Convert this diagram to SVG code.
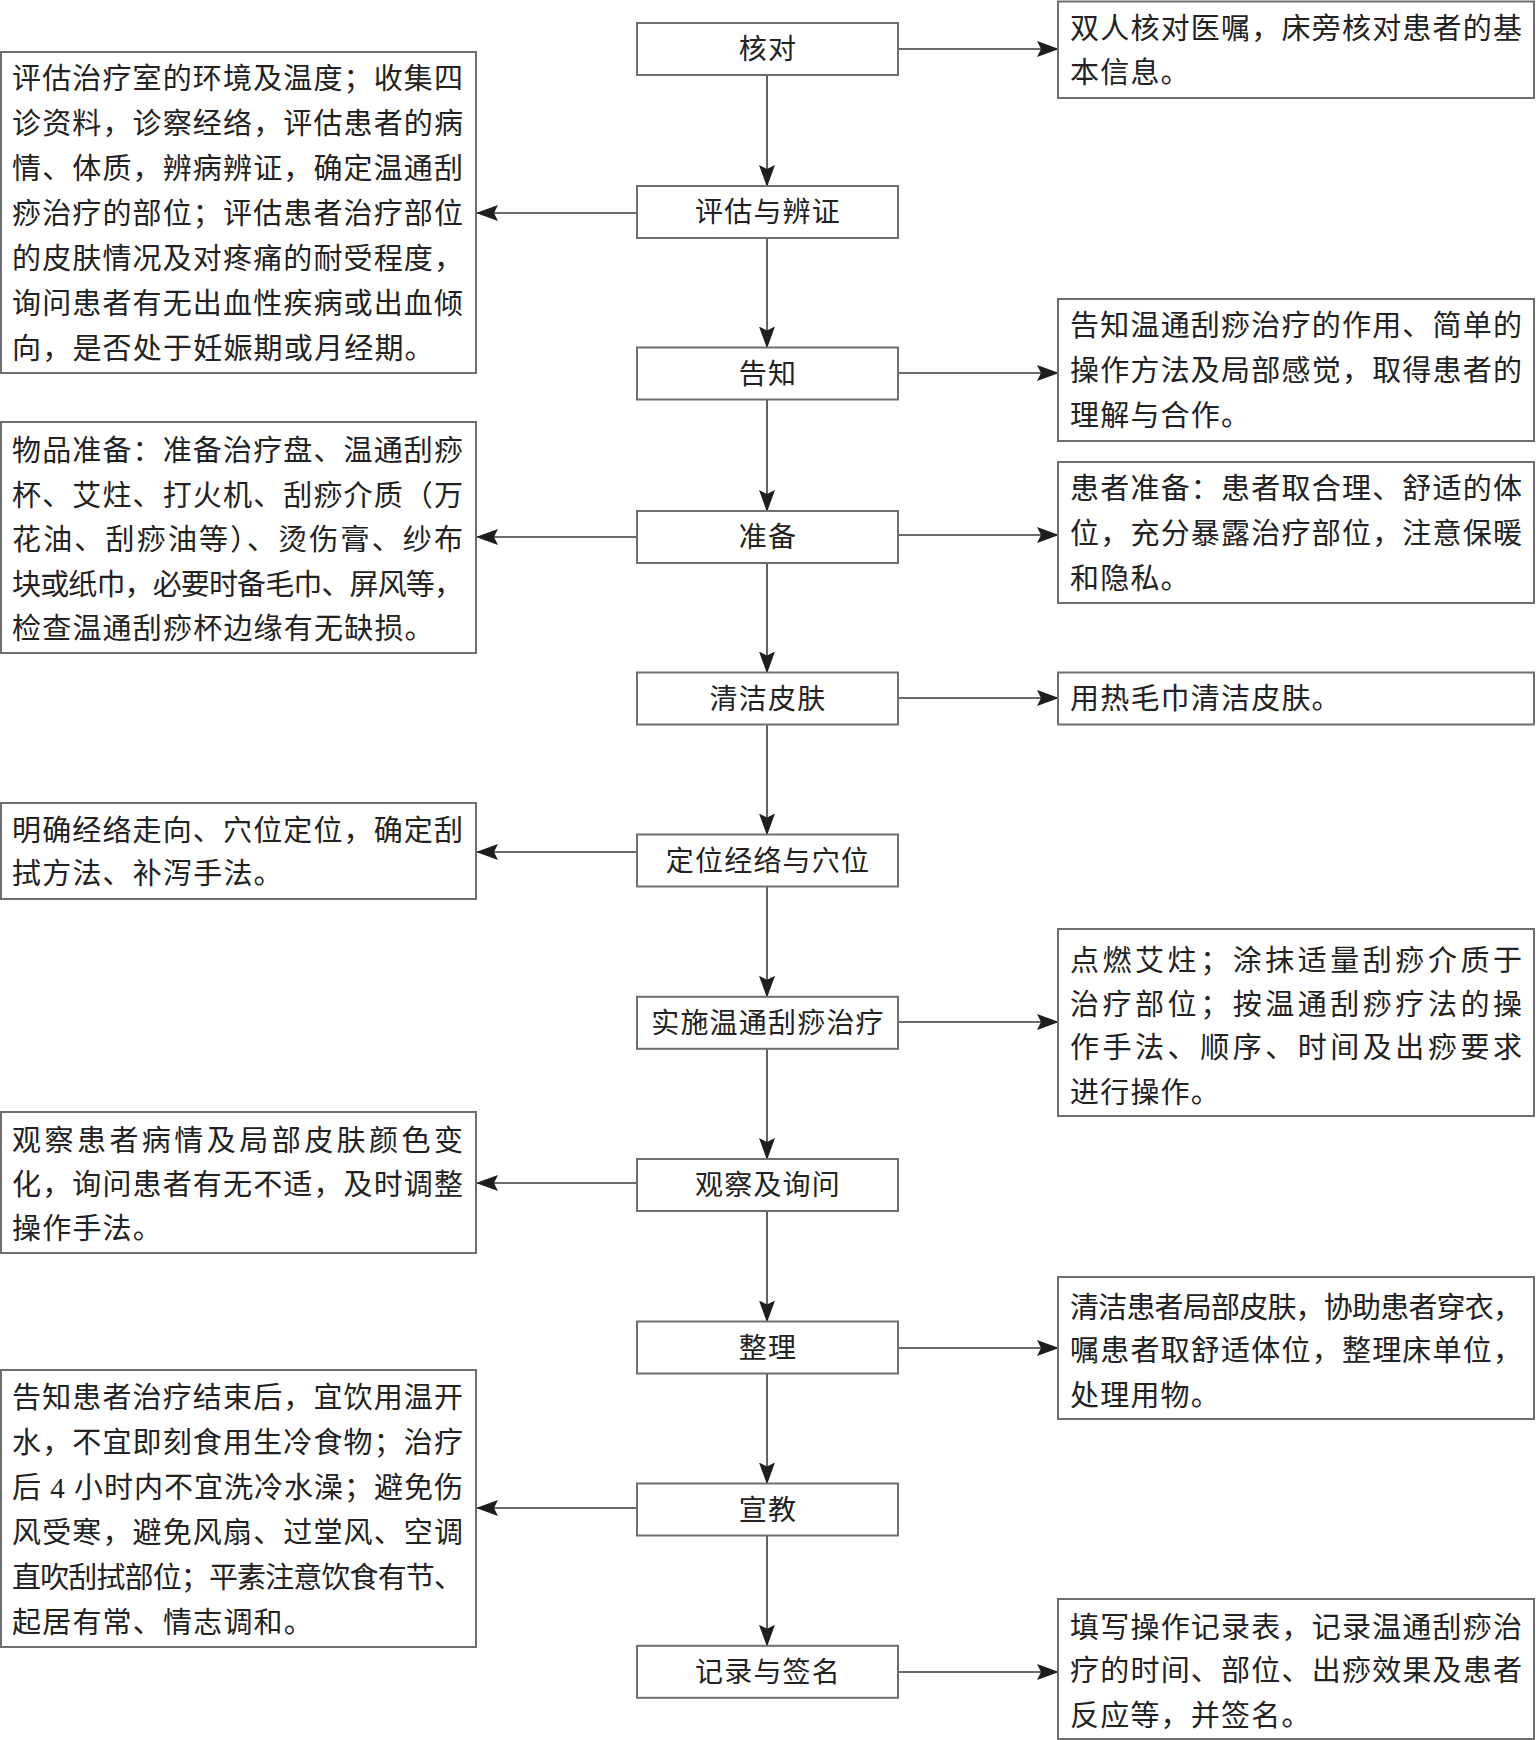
<svg xmlns="http://www.w3.org/2000/svg" width="1536" height="1740" viewBox="0 0 1536 1740">
<style>
  .bg { fill: #ffffff; }
  .box { fill: #ffffff; stroke: #6e6e6e; stroke-width: 2; }
  .lbl { font-family: "Noto Sans CJK SC", "Liberation Serif", sans-serif; font-size: 28px; fill: #222222; text-anchor: middle; letter-spacing: 1.2px; }
  .txt { font-family: "Liberation Serif", "Noto Sans CJK SC", serif; font-size: 29px; fill: #222222; }
  .last { letter-spacing: 1.2px; }
  .con { stroke: #3a3a3a; stroke-width: 1.6; fill: none; }
</style>
<defs>
  <marker id="ah" viewBox="0 0 22 16" refX="21" refY="8" markerWidth="22" markerHeight="16" markerUnits="userSpaceOnUse" orient="auto">
    <path d="M0,0 L22,8 L0,16 L4,8 Z" fill="#1e1e1e"/>
  </marker>
</defs>
<rect class="bg" x="0" y="0" width="1536" height="1740"/>

<g id="connectors">
  <line class="con" x1="767" y1="75" x2="767" y2="186" marker-end="url(#ah)"/>
  <line class="con" x1="767" y1="238" x2="767" y2="347.5" marker-end="url(#ah)"/>
  <line class="con" x1="767" y1="399.5" x2="767" y2="511" marker-end="url(#ah)"/>
  <line class="con" x1="767" y1="563" x2="767" y2="672.5" marker-end="url(#ah)"/>
  <line class="con" x1="767" y1="724.5" x2="767" y2="834.5" marker-end="url(#ah)"/>
  <line class="con" x1="767" y1="886.5" x2="767" y2="996.8" marker-end="url(#ah)"/>
  <line class="con" x1="767" y1="1048.8" x2="767" y2="1159" marker-end="url(#ah)"/>
  <line class="con" x1="767" y1="1211" x2="767" y2="1321.5" marker-end="url(#ah)"/>
  <line class="con" x1="767" y1="1373.5" x2="767" y2="1483.5" marker-end="url(#ah)"/>
  <line class="con" x1="767" y1="1535.5" x2="767" y2="1645.8" marker-end="url(#ah)"/>

  <line class="con" x1="898" y1="49" x2="1058" y2="49" marker-end="url(#ah)"/>
  <line class="con" x1="898" y1="373" x2="1058" y2="373" marker-end="url(#ah)"/>
  <line class="con" x1="898" y1="535" x2="1058" y2="535" marker-end="url(#ah)"/>
  <line class="con" x1="898" y1="698" x2="1058" y2="698" marker-end="url(#ah)"/>
  <line class="con" x1="898" y1="1022" x2="1058" y2="1022" marker-end="url(#ah)"/>
  <line class="con" x1="898" y1="1348" x2="1058" y2="1348" marker-end="url(#ah)"/>
  <line class="con" x1="898" y1="1672" x2="1058" y2="1672" marker-end="url(#ah)"/>

  <line class="con" x1="637" y1="213" x2="477" y2="213" marker-end="url(#ah)"/>
  <line class="con" x1="637" y1="537" x2="477" y2="537" marker-end="url(#ah)"/>
  <line class="con" x1="637" y1="852" x2="477" y2="852" marker-end="url(#ah)"/>
  <line class="con" x1="637" y1="1183" x2="477" y2="1183" marker-end="url(#ah)"/>
  <line class="con" x1="637" y1="1508" x2="477" y2="1508" marker-end="url(#ah)"/>
</g>

<g id="n1"><rect class="box" x="637" y="23" width="261" height="52"/><text class="lbl" x="768" y="59">核对</text></g>
<g id="n2"><rect class="box" x="637" y="186" width="261" height="52"/><text class="lbl" x="768" y="222">评估与辨证</text></g>
<g id="n3"><rect class="box" x="637" y="347.5" width="261" height="52"/><text class="lbl" x="768" y="383.5">告知</text></g>
<g id="n4"><rect class="box" x="637" y="511" width="261" height="52"/><text class="lbl" x="768" y="547">准备</text></g>
<g id="n5"><rect class="box" x="637" y="672.5" width="261" height="52"/><text class="lbl" x="768" y="708.5">清洁皮肤</text></g>
<g id="n6"><rect class="box" x="637" y="834.5" width="261" height="52"/><text class="lbl" x="768" y="870.5">定位经络与穴位</text></g>
<g id="n7"><rect class="box" x="637" y="996.8" width="261" height="52"/><text class="lbl" x="768" y="1032.5">实施温通刮痧治疗</text></g>
<g id="n8"><rect class="box" x="637" y="1159" width="261" height="52"/><text class="lbl" x="768" y="1194.5">观察及询问</text></g>
<g id="n9"><rect class="box" x="637" y="1321.5" width="261" height="52"/><text class="lbl" x="768" y="1358">整理</text></g>
<g id="n10"><rect class="box" x="637" y="1483.5" width="261" height="52"/><text class="lbl" x="768" y="1519.5">宣教</text></g>
<g id="n11"><rect class="box" x="637" y="1645.8" width="261" height="52"/><text class="lbl" x="768" y="1681.5">记录与签名</text></g>

<g id="l1">
  <rect class="box" x="1" y="52" width="475" height="321"/>
  <text class="txt" x="12" y="88.5" textLength="451" lengthAdjust="spacing">评估治疗室的环境及温度；收集四</text>
  <text class="txt" x="12" y="133.5" textLength="451" lengthAdjust="spacing">诊资料，诊察经络，评估患者的病</text>
  <text class="txt" x="12" y="178.5" textLength="451" lengthAdjust="spacing">情、体质，辨病辨证，确定温通刮</text>
  <text class="txt" x="12" y="223.5" textLength="451" lengthAdjust="spacing">痧治疗的部位；评估患者治疗部位</text>
  <text class="txt" x="12" y="268.5" textLength="451" lengthAdjust="spacing">的皮肤情况及对疼痛的耐受程度，</text>
  <text class="txt" x="12" y="313.5" textLength="451" lengthAdjust="spacing">询问患者有无出血性疾病或出血倾</text>
  <text class="txt last" x="12" y="358.5">向，是否处于妊娠期或月经期。</text>
</g>
<g id="l2">
  <rect class="box" x="1" y="422" width="475" height="231"/>
  <text class="txt" x="12" y="460.5" textLength="451" lengthAdjust="spacing">物品准备：准备治疗盘、温通刮痧</text>
  <text class="txt" x="12" y="505.5" textLength="451" lengthAdjust="spacing">杯、艾炷、打火机、刮痧介质（万</text>
  <text class="txt" x="12" y="550" textLength="451" lengthAdjust="spacing">花油、刮痧油等）、烫伤膏、纱布</text>
  <text class="txt" x="12" y="594.5" textLength="451" lengthAdjust="spacing">块或纸巾，必要时备毛巾、屏风等，</text>
  <text class="txt last" x="12" y="638.5">检查温通刮痧杯边缘有无缺损。</text>
</g>
<g id="l3">
  <rect class="box" x="1" y="803" width="475" height="96"/>
  <text class="txt" x="12" y="840.5" textLength="451" lengthAdjust="spacing">明确经络走向、穴位定位，确定刮</text>
  <text class="txt last" x="12" y="883.5">拭方法、补泻手法。</text>
</g>
<g id="l4">
  <rect class="box" x="1" y="1112" width="475" height="141"/>
  <text class="txt" x="12" y="1150.5" textLength="451" lengthAdjust="spacing">观察患者病情及局部皮肤颜色变</text>
  <text class="txt" x="12" y="1194.5" textLength="451" lengthAdjust="spacing">化，询问患者有无不适，及时调整</text>
  <text class="txt last" x="12" y="1238.5">操作手法。</text>
</g>
<g id="l5">
  <rect class="box" x="1" y="1370" width="475" height="277"/>
  <text class="txt" x="12" y="1407.5" textLength="451" lengthAdjust="spacing">告知患者治疗结束后，宜饮用温开</text>
  <text class="txt" x="12" y="1452.5" textLength="451" lengthAdjust="spacing">水，不宜即刻食用生冷食物；治疗</text>
  <text class="txt" x="12" y="1497.5" textLength="451" lengthAdjust="spacing">后 4 小时内不宜洗冷水澡；避免伤</text>
  <text class="txt" x="12" y="1542.5" textLength="451" lengthAdjust="spacing">风受寒，避免风扇、过堂风、空调</text>
  <text class="txt" x="12" y="1587.5" textLength="451" lengthAdjust="spacing">直吹刮拭部位；平素注意饮食有节、</text>
  <text class="txt last" x="12" y="1632.5">起居有常、情志调和。</text>
</g>

<g id="r1">
  <rect class="box" x="1058" y="1.5" width="476" height="96.5"/>
  <text class="txt" x="1070" y="38.5" textLength="452" lengthAdjust="spacing">双人核对医嘱，床旁核对患者的基</text>
  <text class="txt last" x="1070" y="82.5">本信息。</text>
</g>
<g id="r2">
  <rect class="box" x="1058" y="299" width="476" height="142"/>
  <text class="txt" x="1070" y="335.5" textLength="452" lengthAdjust="spacing">告知温通刮痧治疗的作用、简单的</text>
  <text class="txt" x="1070" y="380.5" textLength="452" lengthAdjust="spacing">操作方法及局部感觉，取得患者的</text>
  <text class="txt last" x="1070" y="425.5">理解与合作。</text>
</g>
<g id="r3">
  <rect class="box" x="1058" y="462" width="476" height="141"/>
  <text class="txt" x="1070" y="498.5" textLength="452" lengthAdjust="spacing">患者准备：患者取合理、舒适的体</text>
  <text class="txt" x="1070" y="543.5" textLength="452" lengthAdjust="spacing">位，充分暴露治疗部位，注意保暖</text>
  <text class="txt last" x="1070" y="588.5">和隐私。</text>
</g>
<g id="r4">
  <rect class="box" x="1058" y="672.5" width="476" height="52"/>
  <text class="txt last" x="1070" y="708.5">用热毛巾清洁皮肤。</text>
</g>
<g id="r5">
  <rect class="box" x="1058" y="929" width="476" height="187"/>
  <text class="txt" x="1070" y="970.5" textLength="452" lengthAdjust="spacing">点燃艾炷；涂抹适量刮痧介质于</text>
  <text class="txt" x="1070" y="1014.5" textLength="452" lengthAdjust="spacing">治疗部位；按温通刮痧疗法的操</text>
  <text class="txt" x="1070" y="1057.5" textLength="452" lengthAdjust="spacing">作手法、顺序、时间及出痧要求</text>
  <text class="txt last" x="1070" y="1102.5">进行操作。</text>
</g>
<g id="r6">
  <rect class="box" x="1058" y="1277" width="476" height="142"/>
  <text class="txt" x="1070" y="1317.5" textLength="452" lengthAdjust="spacing">清洁患者局部皮肤，协助患者穿衣，</text>
  <text class="txt" x="1070" y="1360.5" textLength="452" lengthAdjust="spacing">嘱患者取舒适体位，整理床单位，</text>
  <text class="txt last" x="1070" y="1405.5">处理用物。</text>
</g>
<g id="r7">
  <rect class="box" x="1058" y="1599" width="476" height="140"/>
  <text class="txt" x="1070" y="1637.5" textLength="452" lengthAdjust="spacing">填写操作记录表，记录温通刮痧治</text>
  <text class="txt" x="1070" y="1680.5" textLength="452" lengthAdjust="spacing">疗的时间、部位、出痧效果及患者</text>
  <text class="txt last" x="1070" y="1725.5">反应等，并签名。</text>
</g>
</svg>
